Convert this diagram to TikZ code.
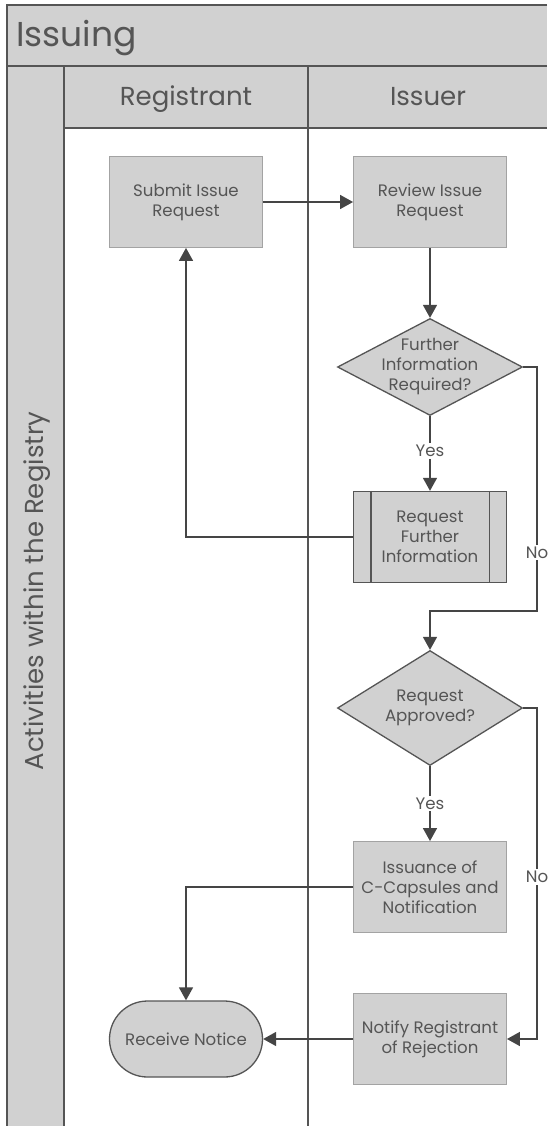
\documentclass[tikz,border=0pt]{standalone}
\usepackage{fontspec}
\setmainfont{Poppins}
\usetikzlibrary{arrows.meta,shapes.geometric,shapes.misc}

\definecolor{bandgray}{HTML}{D1D1D1}
\definecolor{poolline}{HTML}{555555}
\definecolor{flowline}{HTML}{454545}
\definecolor{boxedge}{HTML}{A3A3A3}
\definecolor{txtgray}{HTML}{555555}

\tikzset{
  poolstroke/.style={draw=poolline, line width=1.6pt},
  procbox/.style={rectangle, fill=bandgray, draw=boxedge, line width=0.9pt,
    minimum width=153pt, minimum height=91pt, inner sep=0pt},
  subproc/.style={rectangle, fill=bandgray, draw=poolline, line width=1.4pt,
    minimum width=153pt, minimum height=91pt, inner sep=0pt},
  decision/.style={diamond, fill=bandgray, draw=poolline, line width=1.3pt,
    inner sep=0pt},
  terminal/.style={rounded rectangle, fill=bandgray, draw=poolline, line width=1.3pt,
    minimum width=153pt, minimum height=76pt, inner sep=0pt},
  boxtext/.style={font=\fontsize{16.6}{20}\selectfont, text=txtgray, align=center, inner sep=0pt},
  lanetext/.style={font=\fontsize{26}{30}\selectfont, text=txtgray, inner sep=0pt},
  flow/.style={draw=flowline, line width=1.6pt, -{Triangle[length=13pt,width=14pt]}},
  edgelabel/.style={font=\fontsize{16.6}{20}\selectfont, text=txtgray, fill=white, inner sep=2pt},
}

\begin{document}
\begin{tikzpicture}[x=1pt,y=-1pt]
\fill[white] (0,0) rectangle (547,1126);
\useasboundingbox (0,0) rectangle (547,1126);

% pool bands
\fill[bandgray] (7,5) rectangle (547,66);
\fill[bandgray] (7,66) rectangle (64,1126);
\fill[bandgray] (64,66) rectangle (547,128);
\draw[poolstroke] (547,5) -- (7,5) -- (7,1126);
\draw[poolstroke] (7,66) -- (547,66);
\draw[poolstroke] (64,128) -- (547,128);
\draw[poolstroke] (64,66) -- (64,1126);
\draw[poolstroke] (308,66) -- (308,1126);

% pool and lane titles
\node[font=\fontsize{34.5}{40}\selectfont, text=txtgray, inner sep=0pt, anchor=base west]
  (pooltitle) at (16,47) {Issuing};
\node[lanetext, anchor=base] (laneA) at (186,106) {Registrant};
\node[lanetext, anchor=base] (laneB) at (428,106) {Issuer};
\node[lanetext, rotate=90] (sidelabel) at (37,591) {Activities within the Registry};

% activities
\node[procbox] (submit) at (186,202) {};
\node[boxtext] at (submit) {Submit Issue\\Request};
\node[procbox] (review) at (430,202) {};
\node[boxtext] at (review) {Review Issue\\Request};

\node[decision, minimum width=185pt, minimum height=97pt] (d1) at (430,367) {};
\node[boxtext] at (d1) {Further\\Information\\Required?};

\node[subproc] (rfi) at (430,537) {};
\draw[draw=poolline, line width=1.4pt]
  ([xshift=18pt]rfi.north west) -- ([xshift=18pt]rfi.south west)
  ([xshift=-18pt]rfi.north east) -- ([xshift=-18pt]rfi.south east);
\node[boxtext] at (rfi) {Request\\Further\\Information};

\node[decision, minimum width=185pt, minimum height=115pt] (d2) at (430,708) {};
\node[boxtext] at (d2) {Request\\Approved?};

\node[procbox] (issue) at (430,887) {};
\node[boxtext] at (issue) {Issuance of\\C-Capsules and\\Notification};

\node[procbox] (notify) at (430,1039) {};
\node[boxtext] at (notify) {Notify Registrant\\of Rejection};

\node[terminal] (receive) at (186,1039) {};
\node[boxtext] at (receive) {Receive Notice};

% connectors
\coordinate (rfibend) at (186,537);
\coordinate (noA1) at (537,367);
\coordinate (noA2) at (537,611);
\coordinate (noA3) at (430,611);
\coordinate (noB1) at (537,708);
\coordinate (noB2) at (537,1039);
\coordinate (issbend) at (186,887);

\draw[flow] (submit.east) -- (review.west);
\draw[flow] (review.south) -- (d1.north);
\draw[flow] (d1.south) -- node[edgelabel, pos=0.47] {Yes} (rfi.north);
\draw[flow] (rfi.west) -- (rfibend) -- (submit.south);
\draw[flow] (d1.east) -- (noA1) -- node[edgelabel, pos=0.76] {No} (noA2) -- (noA3) -- (d2.north);
\draw[flow] (d2.south) -- node[edgelabel, pos=0.5] {Yes} (issue.north);
\draw[flow] (d2.east) -- (noB1) -- node[edgelabel, pos=0.51] {No} (noB2) -- (notify.east);
\draw[flow] (issue.west) -- (issbend) -- (receive.north);
\draw[flow] (notify.west) -- (receive.east);
\end{tikzpicture}
\end{document}
